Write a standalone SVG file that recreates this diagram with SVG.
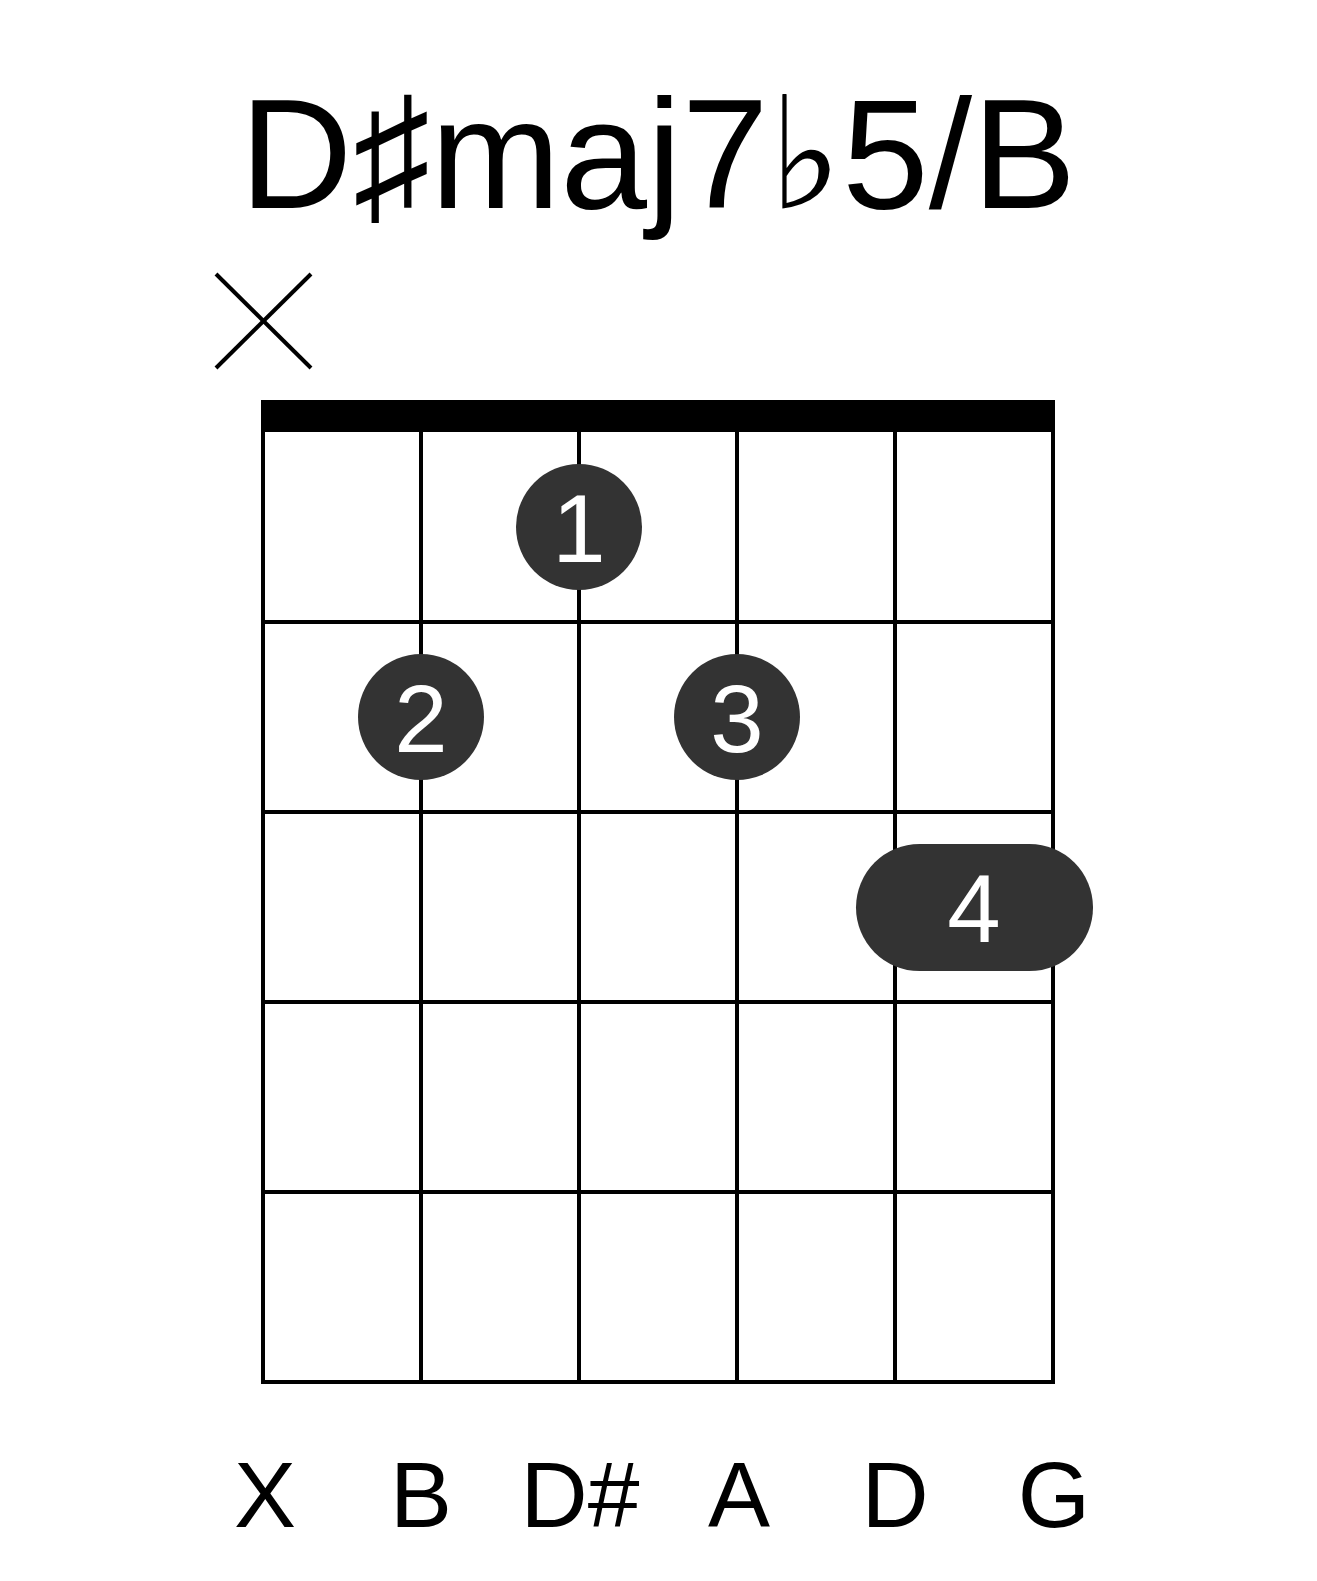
<svg xmlns="http://www.w3.org/2000/svg" width="1317" height="1581" viewBox="0 0 1317 1581">
<style>
.t{font-family:"Liberation Sans","DejaVu Sans",Arial,sans-serif;fill:#000}
.s{stroke:#000;stroke-width:4;fill:none}
.dot{fill:#333}
.n{font-family:"Liberation Sans",Arial,sans-serif;font-size:96px;fill:#fff;text-anchor:middle}
.lb{font-family:"Liberation Sans",Arial,sans-serif;font-size:93px;fill:#000;text-anchor:middle}
</style>
<rect width="1317" height="1581" fill="#fff"/>
<text id="title" class="t" x="658" y="208" font-size="156" text-anchor="middle">D♯maj7♭5/B</text>
<g id="mute">
<line class="s" x1="216" y1="274" x2="311" y2="368"/>
<line class="s" x1="311" y1="274" x2="216" y2="368"/>
</g>
<g id="grid">
<rect x="261" y="400" width="794" height="32" fill="#000"/>
<g class="s">
<line x1="263" y1="430" x2="263" y2="1384"/>
<line x1="421" y1="430" x2="421" y2="1384"/>
<line x1="579" y1="430" x2="579" y2="1384"/>
<line x1="737" y1="430" x2="737" y2="1384"/>
<line x1="895" y1="430" x2="895" y2="1384"/>
<line x1="1053" y1="430" x2="1053" y2="1384"/>
<line x1="261" y1="622" x2="1055" y2="622"/>
<line x1="261" y1="812" x2="1055" y2="812"/>
<line x1="261" y1="1002" x2="1055" y2="1002"/>
<line x1="261" y1="1192" x2="1055" y2="1192"/>
<line x1="261" y1="1382" x2="1055" y2="1382"/>
</g>
</g>
<g id="f1"><circle class="dot" cx="579" cy="527" r="63"/><text class="n" x="579" y="562">1</text></g>
<g id="f2"><circle class="dot" cx="421" cy="717" r="63"/><text class="n" x="421" y="752">2</text></g>
<g id="f3"><circle class="dot" cx="737" cy="717" r="63"/><text class="n" x="737" y="752">3</text></g>
<g id="f4"><rect class="dot" x="856" y="844" width="237" height="127" rx="63.5"/><text class="n" x="974" y="942">4</text></g>
<g id="labels">
<text class="lb" x="265" y="1527">X</text>
<text class="lb" x="421" y="1527">B</text>
<text class="lb" x="580" y="1527">D#</text>
<text class="lb" x="739" y="1527">A</text>
<text class="lb" x="895" y="1527">D</text>
<text class="lb" x="1054" y="1527">G</text>
</g>
</svg>
